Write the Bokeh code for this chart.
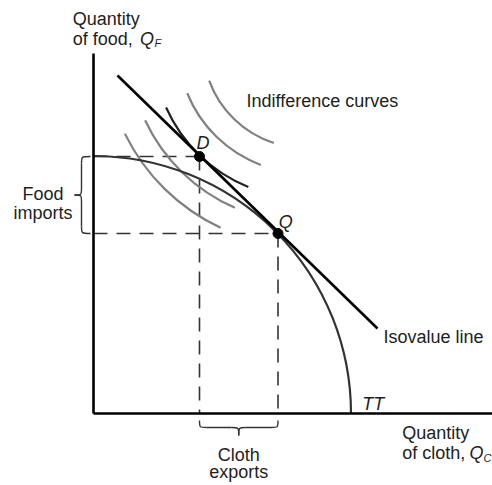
from bokeh.plotting import figure
from bokeh.models import Range1d
from bokeh.core.properties import value
from bokeh.embed import file_html
from bokeh.resources import INLINE

# ---- data (units: tenths of the chart's pixel grid, origin at the axes' corner) ----
axis_x_max = 39.9          # right end of the cloth axis
axis_y_max = 36.0          # top of the food axis

# consumption point D and production point Q  (Q_C, Q_F)
point_names = ["D", "Q"]
point_qc = [10.6, 18.45]
point_qf = [25.7, 18.0]

# transformation curve TT (quarter arc about origin)
tt_radius = 25.75

# isovalue line end points
iso_qc = [2.4, 28.4]
iso_qf = [33.8, 8.5]

# indifference curves (arcs about a common centre)
ic_center_qc = 21.2
ic_center_qf = 36.8
ic_radius = [10.25, 12.75, 15.26, 17.7, 20.1]
ic_start_deg = [200, 202, 204, 205, 206]
ic_end_deg = [252, 249.5, 248, 246.5, 245]
ic_tangent = [False, False, True, False, False]

# ---- figure ----
p = figure(width=492, height=485, output_backend="svg", toolbar_location=None,
           x_range=Range1d(-9.3, 39.9), y_range=Range1d(-7.2, 41.3),
           x_axis_location=None, y_axis_location=None, title=None,
           min_border=0)
p.grid.visible = False
p.outline_line_color = None
p.background_fill_color = "white"
p.border_fill_color = "white"

FONT = value("Liberation Sans")
INK = "#1e1e1e"

# dashed guide lines from D and Q to the axes
dx0, dy0, dx1, dy1 = [], [], [], []
for qc, qf in zip(point_qc, point_qf):
    dx0 += [0, qc]; dy0 += [qf, qf]; dx1 += [qc, qc]; dy1 += [qf, 0]
p.segment(dx0, dy0, dx1, dy1, line_color="#333333", line_width=1.6, line_dash="14 9")

# indifference curves
for r, a0, a1, t in zip(ic_radius, ic_start_deg, ic_end_deg, ic_tangent):
    p.arc(x=[ic_center_qc], y=[ic_center_qf], radius=[r],
          start_angle=[a0], end_angle=[a1],
          start_angle_units="deg", end_angle_units="deg",
          line_color="#222222" if t else "#808080", line_width=2.2)

# TT curve
p.arc(x=[0], y=[0], radius=[tt_radius], start_angle=[0], end_angle=[90],
      start_angle_units="deg", end_angle_units="deg",
      line_color="#333333", line_width=2.2)

# isovalue line
p.line(iso_qc, iso_qf, line_color="black", line_width=2.6)

# axes
p.segment([0, 0], [0, 0], [0, axis_x_max], [axis_y_max, 0], line_color="black", line_width=2.6)

# points
p.scatter(point_qc, point_qf, size=10, fill_color="black", line_color="black")

# braces
def brace_vertical(lo, hi, xe, xs, xt, r):
    m = (lo + hi) / 2
    bz = dict(x0=[xe, xs, xe, xs], y0=[hi, m + r, lo, m - r],
              x1=[xs, xt, xs, xt], y1=[hi - r, m, lo + r, m],
              cx0=[xs, xs, xs, xs], cy0=[hi, m, lo, m],
              cx1=[xs, xs, xs, xs], cy1=[hi, m, lo, m])
    seg = dict(x0=[xs, xs], y0=[hi - r, lo + r], x1=[xs, xs], y1=[m + r, m - r])
    return bz, seg

def brace_horizontal(lo, hi, ye, ys, yt, r):
    m = (lo + hi) / 2
    bz = dict(y0=[ye, ys, ye, ys], x0=[lo, m - r, hi, m + r],
              y1=[ys, yt, ys, yt], x1=[lo + r, m, hi - r, m],
              cy0=[ys, ys, ys, ys], cx0=[lo, m, hi, m],
              cy1=[ys, ys, ys, ys], cx1=[lo, m, hi, m])
    seg = dict(y0=[ys, ys], x0=[lo + r, hi - r], y1=[ys, ys], x1=[m - r, m + r])
    return bz, seg

for bz, seg in [brace_vertical(point_qf[1], point_qf[0], -0.3, -1.2, -1.9, 0.7),
                brace_horizontal(point_qc[0], point_qc[1], -0.7, -1.4, -2.2, 0.7)]:
    p.bezier(line_color="#333333", line_width=1.4, **bz)
    p.segment(line_color="#333333", line_width=1.4, **seg)

# ---- texts ----
plain_text = ["Quantity", "of food,", "Quantity", "of cloth,", "Indifference curves", "Isovalue line"]
plain_x = [-2.07, -2.07, 30.87, 30.87, 15.3, 29.0]
plain_y = [39.5, 37.5, -1.97, -3.97, 31.3, 7.7]
p.text(plain_x, plain_y, text=plain_text, text_font=FONT, text_font_size="18px",
       text_color=INK, text_align="left", text_baseline="alphabetic")

center_text = ["Food", "imports", "Cloth", "exports"]
center_x = [-5.05, -5.05, 14.53, 14.53]
center_y = [21.97, 20.07, -4.13, -5.8]
p.text(center_x, center_y, text=center_text, text_font=FONT, text_font_size="18px",
       text_color=INK, text_align="center", text_baseline="alphabetic")

italic_text = ["Q", "Q", "D", "Q", "TT"]
italic_x = [4.65, 37.6, 10.3, 18.53, 26.87]
italic_y = [37.5, -3.97, 27.03, 19.13, 0.97]
p.text(italic_x, italic_y, text=italic_text, text_font=FONT, text_font_size="18px",
       text_font_style="italic", text_color=INK, text_align="left", text_baseline="alphabetic")

sub_text = ["F", "C"]
sub_x = [6.1, 39.0]
sub_y = [37.1, -4.43]
p.text(sub_x, sub_y, text=sub_text, text_font=FONT, text_font_size="11px",
       text_font_style="italic", text_color=INK, text_align="left", text_baseline="alphabetic")

open("out.html", "w").write(file_html(p, INLINE))
